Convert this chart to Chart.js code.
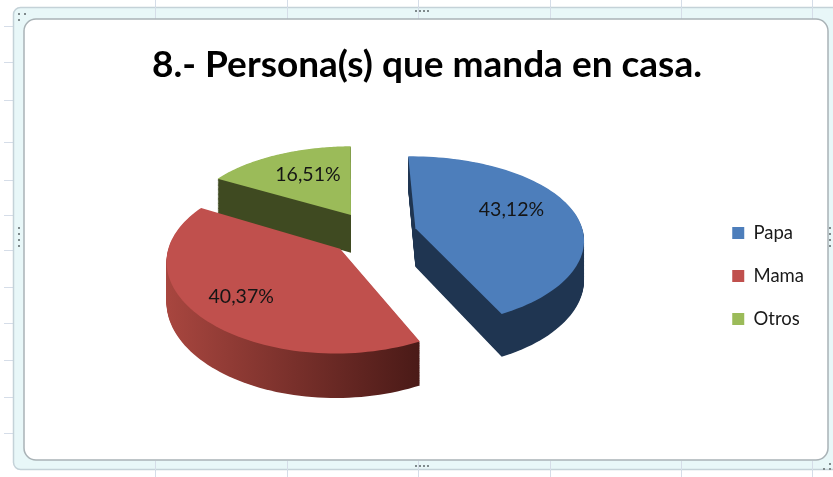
<!DOCTYPE html>
<html><head><meta charset="utf-8">
<style>html,body{margin:0;padding:0;background:#fff}#w{width:833px;height:477px}canvas{filter:blur(.45px)}</style>
<script src="https://cdn.jsdelivr.net/npm/chart.js@4/dist/chart.umd.js"></script>
</head><body><div id="w"><canvas id="c" width="833" height="477"></canvas></div>
<script>
const titleText = '8.- Persona(s) que manda en casa.';
const categories = ['Papa', 'Mama', 'Otros'];
const shares = [43.12, 40.37, 16.51];
const topColors = ['#4d7ebb', '#c0504d', '#9bbb59'];
const sideColors = [['#1f3551', '#1f3551'], ['#a8463f', '#4a1a17'], ['#3f4a21', '#3f4a21']];
const labelNudge = [[1, -7], [11, -5], [-8, -11]];
const view = {shiftX: -1, shiftY: -54, k: .5, ax: .12, ay: .15, depth: 39, depthGrow: .12, labelRadius: [.6, .8, .45]};

const gridX = [155, 287, 418, 550, 681, 812];
const gridY = [26, 62, 100, 142, 180, 215, 250, 287, 323, 360, 397, 433];

function dots(ctx, x, y, pts) {
  ctx.fillStyle = '#7f8a8c';
  pts.forEach(p => ctx.fillRect(x + p[0], y + p[1], 2, 2));
}
const framePlugin = {
  id: 'sheetFrame',
  beforeDraw(chart) {
    const ctx = chart.ctx;
    ctx.save();
    ctx.fillStyle = '#fff'; ctx.fillRect(0, 0, 833, 477);
    ctx.strokeStyle = '#d5dde8'; ctx.lineWidth = 1;
    gridX.forEach(x => {ctx.beginPath(); ctx.moveTo(x + .5, 0); ctx.lineTo(x + .5, 477); ctx.stroke();});
    gridY.forEach(y => {ctx.beginPath(); ctx.moveTo(4, y + .5); ctx.lineTo(833, y + .5); ctx.stroke();});
    ctx.beginPath(); ctx.roundRect(13.5, 7.5, 830, 462, 7);
    ctx.fillStyle = '#e8f7f8'; ctx.fill(); ctx.strokeStyle = '#c4d2d8'; ctx.lineWidth = 1.5; ctx.stroke();
    gridX.forEach(x => {ctx.strokeStyle = '#d5dde8'; ctx.lineWidth = 1; ctx.beginPath(); ctx.moveTo(x + .5, 7); ctx.lineTo(x + .5, 19); ctx.moveTo(x + .5, 461); ctx.lineTo(x + .5, 470); ctx.stroke();});
    ctx.beginPath(); ctx.roundRect(24, 19, 804, 441, 12);
    ctx.fillStyle = '#fff'; ctx.fill(); ctx.strokeStyle = '#a9b2b6'; ctx.lineWidth = 1.5; ctx.stroke();
    dots(ctx, 18, 13, [[0, 0], [6, 0], [0, 6]]);
    dots(ctx, 825, 463, [[4, 0], [4, 5], [-2, 5]]);
    dots(ctx, 415, 10, [[0, 0], [4, 0], [8, 0], [12, 0]]);
    dots(ctx, 415, 465, [[0, 0], [4, 0], [8, 0], [12, 0]]);
    dots(ctx, 18, 227, [[0, 0], [0, 6], [0, 12], [0, 18]]);
    dots(ctx, 829, 227, [[0, 0], [0, 6], [0, 12], [0, 18]]);
    ctx.restore();
  }
};

function projector(arc) {
  const R = arc.outerRadius;
  const cx = arc.x + view.shiftX, cy = arc.y + view.shiftY;
  return (u, v) => ({
    x: cx + R * u / (1 - view.ax * v),
    y: cy + R * view.k * v / (1 - view.ay * v),
    d: view.depth * (1 + view.depthGrow * v)
  });
}
function drawSlice(ctx, arc, i) {
  const P = projector(arc);
  const mid = (arc.startAngle + arc.endAngle) / 2;
  const e = arc.options.offset / arc.outerRadius;
  const ex = e * Math.cos(mid), ey = e * Math.sin(mid);
  const pts = [P(ex, ey)];
  for (let s = 0; s <= 80; s++) {
    const a = arc.startAngle + (arc.endAngle - arc.startAngle) * s / 80;
    pts.push(P(ex + Math.cos(a), ey + Math.sin(a)));
  }
  const xs = pts.map(p => p.x);
  const g = ctx.createLinearGradient(Math.min(...xs), 0, Math.max(...xs), 0);
  g.addColorStop(0, sideColors[i][0]); g.addColorStop(1, sideColors[i][1]);
  const outline = (t) => {
    ctx.beginPath();
    pts.forEach((p, n) => n ? ctx.lineTo(p.x, p.y + p.d * t) : ctx.moveTo(p.x, p.y + p.d * t));
    ctx.closePath();
  };
  ctx.fillStyle = g;
  for (let t = 1; t > 0; t -= 1 / 50) { outline(t); ctx.fill(); }
  outline(0);
  ctx.fillStyle = arc.options.backgroundColor; ctx.fill();
}
const pie3dPlugin = {
  id: 'pie3d',
  beforeDatasetDraw(chart, args) {
    const ctx = chart.ctx, arcs = args.meta.data;
    const order = arcs.map((a, i) => i).sort((a, b) =>
      Math.sin((arcs[a].startAngle + arcs[a].endAngle) / 2) - Math.sin((arcs[b].startAngle + arcs[b].endAngle) / 2));
    ctx.save();
    order.forEach(i => drawSlice(ctx, arcs[i], i));
    ctx.fillStyle = '#151515';
    ctx.font = '19.5px Lato'; ctx.textAlign = 'center'; ctx.textBaseline = 'middle';
    arcs.forEach((arc, i) => {
      const mid = (arc.startAngle + arc.endAngle) / 2;
      const r = arc.options.offset / arc.outerRadius + view.labelRadius[i];
      const p = projector(arc)(r * Math.cos(mid), r * Math.sin(mid));
      ctx.fillText(shares[i].toFixed(2).replace('.', ',') + '%', p.x + labelNudge[i][0], p.y + labelNudge[i][1]);
    });
    ctx.restore();
    return false;
  }
};

new Chart(document.getElementById('c'), {
  type: 'pie',
  data: {labels: categories, datasets: [{data: shares, backgroundColor: topColors, borderWidth: 0, offset: 44}]},
  plugins: [framePlugin, pie3dPlugin],
  options: {
    responsive: false, animation: false, rotation: -1, radius: 168,
    layout: {padding: {left: 40, right: 19, top: 43, bottom: -32}},
    plugins: {
      tooltip: {enabled: false},
      title: {display: true, text: titleText, color: '#000', font: {family: 'Lato', size: 37, weight: 'bold'}, padding: {top: 0, bottom: 10}},
      legend: {position: 'right', labels: {boxWidth: 12, boxHeight: 12, padding: 24.5, color: '#1a1a1a', font: {family: 'Lato', size: 18.5}}}
    }
  }
});
</script></body></html>
